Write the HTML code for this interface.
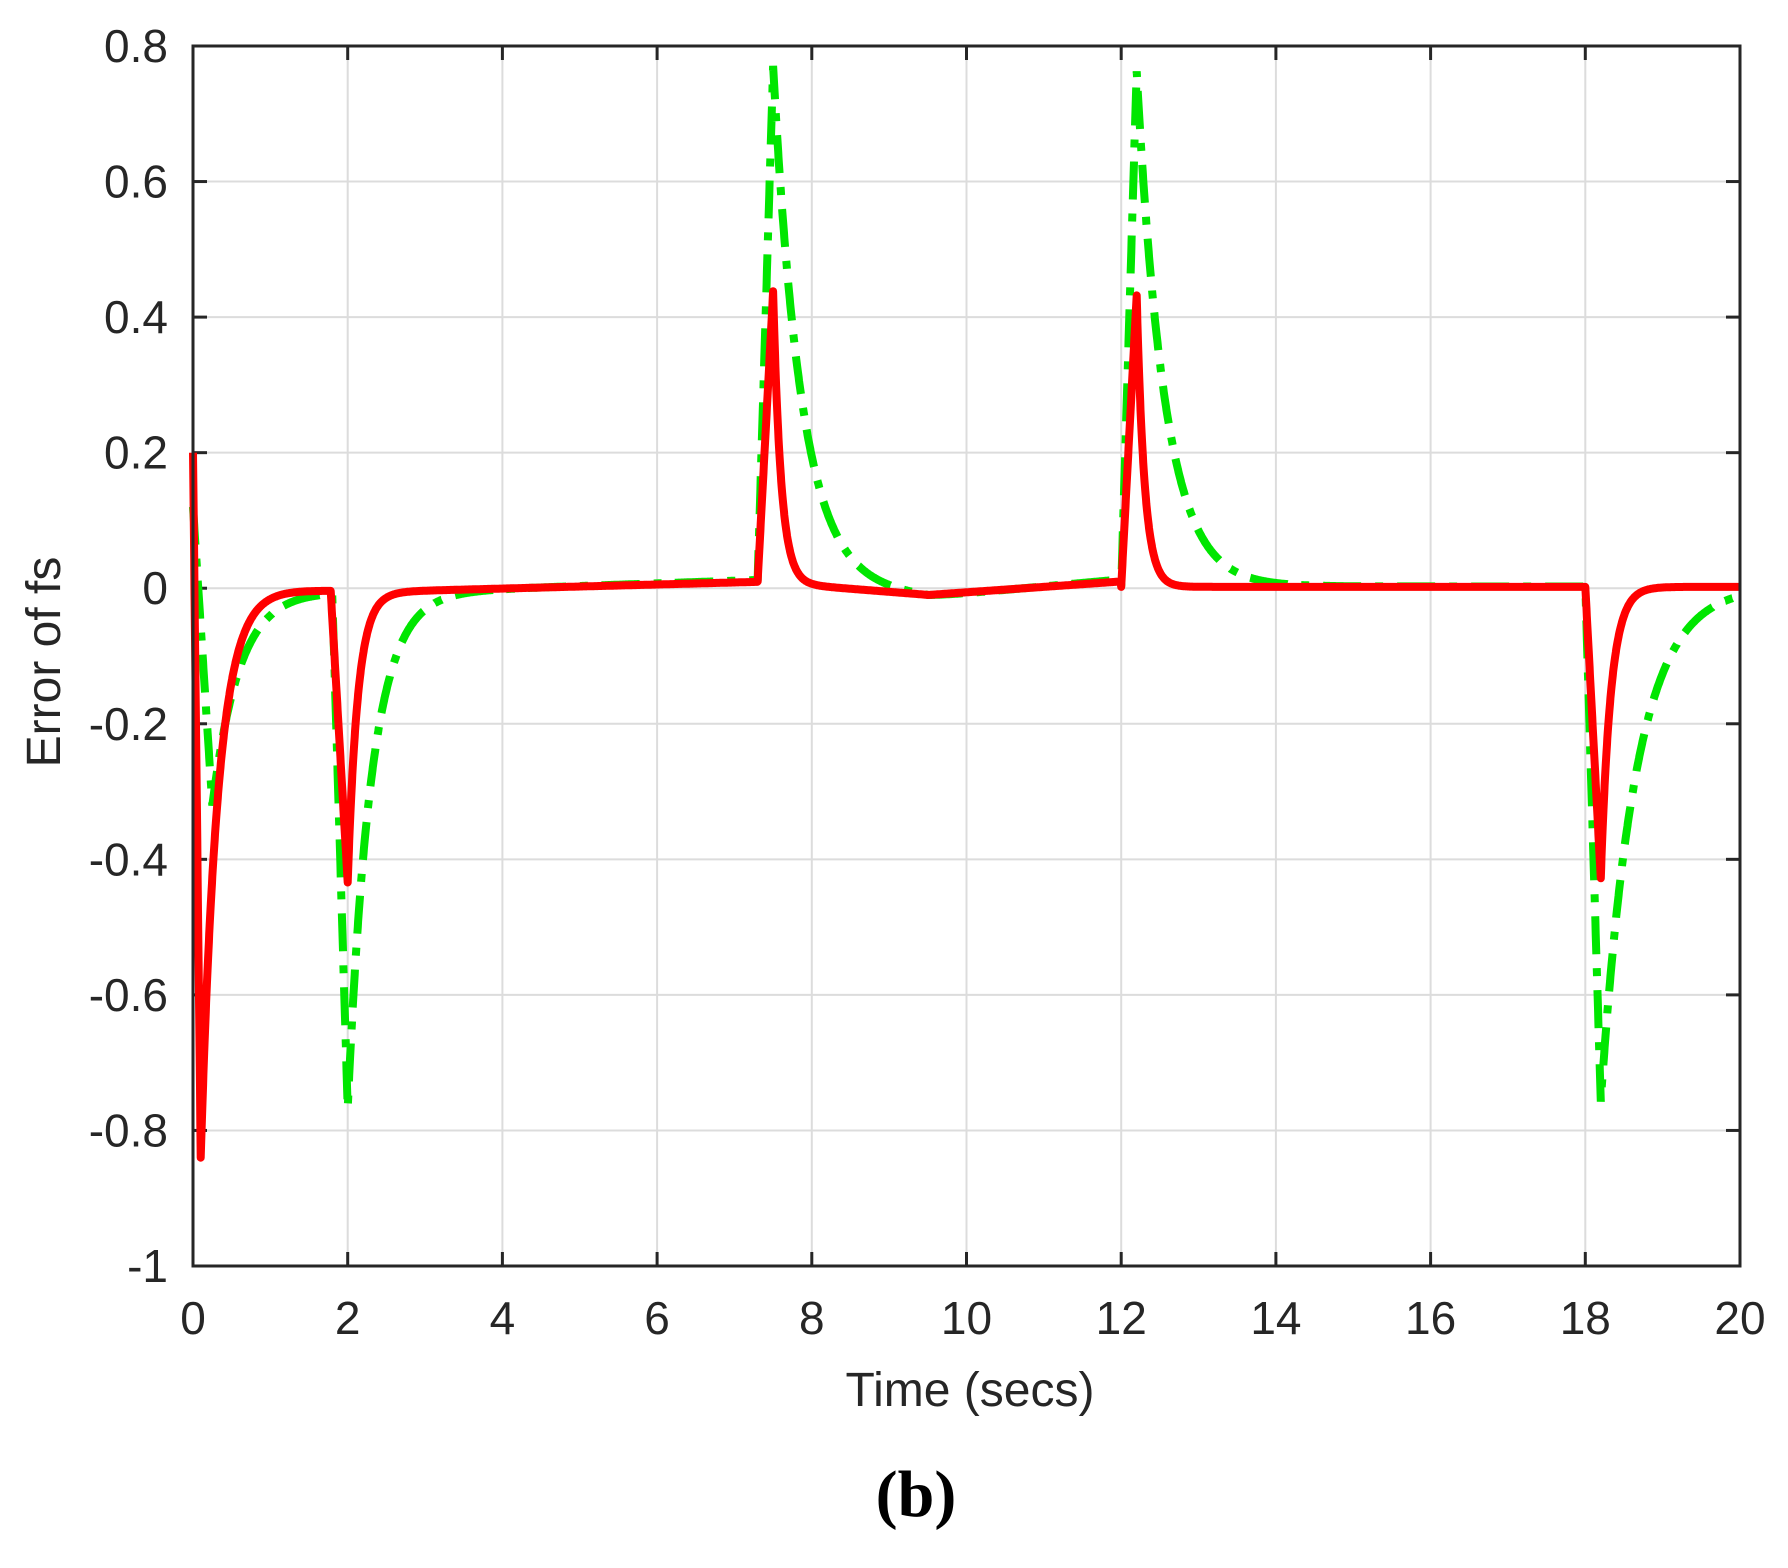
<!DOCTYPE html>
<html><head><meta charset="utf-8">
<style>
html,body{margin:0;padding:0;background:#fff;}
svg{display:block;}
text{font-family:"Liberation Sans",Arial,sans-serif;fill:#262626;}
</style></head>
<body>
<svg id="s" width="1788" height="1568" viewBox="0 0 1788 1568" xmlns="http://www.w3.org/2000/svg">
<rect width="1788" height="1568" fill="#fff"/>
<g id="grid" stroke="#dcdcdc" stroke-width="2"></g>
<g id="ticks" stroke="#262626" stroke-width="3"></g>
<path id="green" fill="none" stroke="#00e600" stroke-width="8" stroke-dasharray="38 14 8 14"/>
<path id="red" fill="none" stroke="#ff0000" stroke-width="8" stroke-linejoin="round"/>
<rect x="193" y="46" width="1547" height="1220" fill="none" stroke="#262626" stroke-width="3"/>
<g id="labels" font-size="46"></g>
<text x="970" y="1406" font-size="48" text-anchor="middle">Time (secs)</text>
<text transform="translate(60,662) rotate(-90)" font-size="48" text-anchor="middle">Error of fs</text>
<text x="916" y="1516" font-size="66" font-weight="bold" text-anchor="middle" style="font-family:'Liberation Serif',serif;fill:#000">(b)</text>
</svg>
<script>
var L=193,R=1740,T=46,B=1266;
function X(t){return L+t*(R-L)/20;}
function Y(v){return T+(0.8-v)*(B-T)/1.8;}
var g=document.getElementById('grid'),tk=document.getElementById('ticks'),lb=document.getElementById('labels');
var NS='http://www.w3.org/2000/svg';
function el(p,n,a,txt){var e=document.createElementNS(NS,n);for(var k in a)e.setAttribute(k,a[k]);if(txt!==undefined)e.textContent=txt;p.appendChild(e);}
for(var i=0;i<=10;i++){var x=X(i*2);
 if(i>0&&i<10)el(g,'line',{x1:x,y1:T,x2:x,y2:B});
 el(tk,'line',{x1:x,y1:B,x2:x,y2:B-14});el(tk,'line',{x1:x,y1:T,x2:x,y2:T+14});
 el(lb,'text',{x:x,y:1334,'text-anchor':'middle'},String(i*2));}
var yl=['-1','-0.8','-0.6','-0.4','-0.2','0','0.2','0.4','0.6','0.8'];
for(var j=0;j<10;j++){var v=-1+j*0.2,y=Y(v);
 if(j>0&&j<9)el(g,'line',{x1:L,y1:y,x2:R,y2:y});
 el(tk,'line',{x1:L,y1:y,x2:L+14,y2:y});el(tk,'line',{x1:R,y1:y,x2:R-14,y2:y});
 el(lb,'text',{x:168,y:y+16,'text-anchor':'end'},yl[j]);}
function pulse(t,t0,t1,A,tau,start){start=start||0;
 if(t<t0)return 0; if(t<t1)return start+(A-start)*(t-t0)/(t1-t0); return A*Math.exp(-(t-t1)/tau);}
function base(t){
 if(t<2.5)return -0.002*t;
 if(t<7.3)return -0.005+(t-2.5)*0.003;
 if(t<9.5)return 0.01-(t-7.3)*0.009;
 if(t<12)return -0.01+(t-9.5)*0.008;
 return 0.002;}
function red(t){
 return base(t)+pulse(t,0,0.1,-0.84,0.22,0.2)+pulse(t,1.78,2.0,-0.43,0.13)+pulse(t,7.3,7.5,0.43,0.1)+pulse(t,12.0,12.2,0.43,0.1)+pulse(t,18.0,18.2,-0.43,0.13);}
function green(t){
 var b=base(t)*1.3;
 return b+pulse(t,0,0.25,-0.32,0.35,0.12)+pulse(t,1.8,2.0,-0.76,0.3)+pulse(t,7.3,7.5,0.76,0.36)+pulse(t,12.0,12.2,0.76,0.36)+pulse(t,18.0,18.2,-0.76,0.45);}
function build(f){var d='',n=4000;for(var i=0;i<=n;i++){var t=i*20/n;d+=(i?'L':'M')+X(t).toFixed(1)+' '+Y(f(t)).toFixed(1);}return d;}
document.getElementById('red').setAttribute('d',build(red));
document.getElementById('green').setAttribute('d',build(green));
</script>
</body></html>
